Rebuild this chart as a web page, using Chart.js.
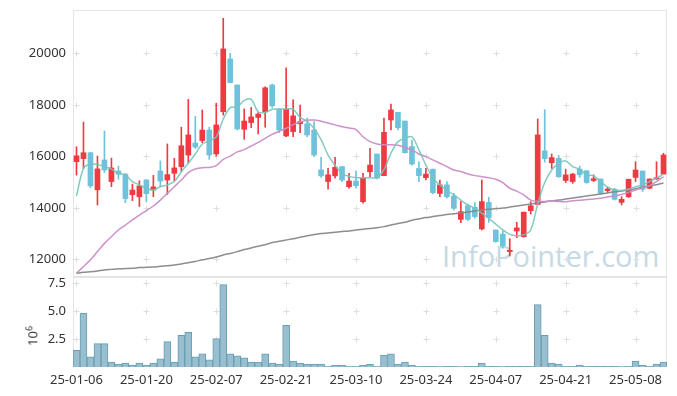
<!DOCTYPE html>
<html>
<head>
<meta charset="utf-8">
<script src="https://cdn.jsdelivr.net/npm/chart.js@4.4.1/dist/chart.umd.min.js"></script>
<style>
  html, body { margin: 0; padding: 0; background: #fff; }
  #wrap { position: relative; width: 677px; height: 396px; overflow: hidden; }
  canvas { position: absolute; left: 0; }
  #priceChart { top: 0; }
  #volChart { top: 277px; }
  #mark {
    position: absolute; left: 442px; top: 241px;
    font: 29px/29px "Open Sans", sans-serif; color: #c6d9e4; white-space: nowrap;
  }
  #unit {
    position: absolute; left: 32px; top: 336px;
    transform: translate(-50%, -50%) rotate(-90deg);
    font: 13px "Noto Sans", sans-serif; color: #333; white-space: nowrap;
  }
  #unit sup { font-size: 9px; }
</style>
</head>
<body>
<div id="wrap">
  <div id="mark">InfoPointer.com</div>
  <canvas id="priceChart" width="677" height="278"></canvas>
  <canvas id="volChart" width="677" height="119"></canvas>
  <div id="unit">10<sup>6</sup></div>
</div>
<script>
(() => {
  "use strict";

  const dates = [
    "25-01-06", "25-01-07", "25-01-08", "25-01-09", "25-01-10", "25-01-13", "25-01-14", "25-01-15",
    "25-01-16", "25-01-17", "25-01-20", "25-01-21", "25-01-22", "25-01-23", "25-01-24", "25-01-31",
    "25-02-03", "25-02-04", "25-02-05", "25-02-06", "25-02-07", "25-02-10", "25-02-11", "25-02-12",
    "25-02-13", "25-02-14", "25-02-17", "25-02-18", "25-02-19", "25-02-20", "25-02-21", "25-02-24",
    "25-02-25", "25-02-26", "25-02-27", "25-02-28", "25-03-04", "25-03-05", "25-03-06", "25-03-07",
    "25-03-10", "25-03-11", "25-03-12", "25-03-13", "25-03-14", "25-03-17", "25-03-18", "25-03-19",
    "25-03-20", "25-03-21", "25-03-24", "25-03-25", "25-03-26", "25-03-27", "25-03-28", "25-03-31",
    "25-04-01", "25-04-02", "25-04-03", "25-04-04", "25-04-07", "25-04-08", "25-04-09", "25-04-10",
    "25-04-11", "25-04-14", "25-04-15", "25-04-16", "25-04-17", "25-04-18", "25-04-21", "25-04-22",
    "25-04-23", "25-04-24", "25-04-25", "25-04-28", "25-04-29", "25-04-30", "25-05-02", "25-05-07",
    "25-05-08", "25-05-09", "25-05-12", "25-05-13", "25-05-14"
  ];

  const openVals = [
    15790, 15910, 16140, 14700, 15860, 15020, 15430, 15310, 14510, 14430, 15080, 14690, 15430, 15080, 15340, 15600,
    16050, 16520, 16610, 17020, 16090, 17730, 19780, 18770, 17050, 17310, 17510, 17730, 18770, 17830, 16790, 16960,
    17260, 17260, 17020, 15470, 15020, 15240, 15600, 14820, 15040, 14240, 15400, 16090, 15250, 17410, 17710, 17370,
    16380, 15530, 15170, 15500, 14560, 14890, 14460, 13550, 14080, 14020, 13180, 14210, 13140, 12980, 12300, 13100,
    12880, 13890, 14130, 16210, 15750, 15920, 15060, 15020, 15500, 15440, 15060, 15120, 14670, 14720, 14210, 14430,
    15180, 15430, 14760, 15120, 15310
  ];
  const highVals = [
    16370, 17330, 16160, 16010, 16980, 15930, 15620, 15330, 14920, 15050, 15100, 15260, 15820, 16480, 15920, 17130,
    18210, 17550, 17800, 17130, 18060, 21360, 20000, 18770, 17840, 17900, 17700, 18700, 18800, 17830, 19440, 18190,
    17990, 17480, 17350, 15960, 15530, 15960, 15600, 15340, 15440, 15340, 16310, 16090, 17480, 18030, 17710, 17370,
    16630, 15790, 15530, 15500, 15080, 15020, 14560, 14240, 14150, 14200, 15080, 14410, 13140, 13110, 12800, 13440,
    13840, 14240, 17450, 17810, 16090, 16030, 15500, 15340, 15620, 15440, 15280, 15120, 14800, 14760, 14430, 15110,
    15790, 15430, 15120, 15790, 16120
  ];
  const lowVals = [
    15270, 15530, 14780, 14110, 15370, 14820, 15110, 14200, 14280, 14050, 14230, 14430, 14820, 14520, 15050, 15400,
    15750, 16300, 16530, 15880, 16010, 17600, 18860, 17020, 16660, 17110, 16870, 17130, 17900, 16920, 16760, 16760,
    16920, 16760, 15990, 15180, 14720, 15150, 15020, 14760, 14760, 14180, 15210, 15120, 15250, 17020, 17020, 16120,
    15660, 15020, 15080, 14540, 14430, 14370, 13920, 13420, 13500, 13590, 13140, 13430, 12660, 12430, 12130, 12840,
    12860, 13760, 14130, 15770, 15530, 15180, 14980, 14950, 15180, 14950, 15020, 14540, 14600, 14300, 14110, 14400,
    15020, 14630, 14740, 15100, 15310
  ];
  const closeVals = [
    16020, 16140, 14850, 15510, 15470, 15550, 15300, 14360, 14690, 14850, 14550, 14810, 15040, 15290, 15550, 16410,
    16830, 16360, 17020, 16050, 17220, 20170, 18860, 17060, 17370, 17530, 17640, 18660, 17960, 17020, 17830, 17570,
    17350, 16830, 16050, 15240, 15280, 15570, 15080, 15040, 14860, 15150, 15660, 15150, 16930, 17800, 17110, 16140,
    15700, 15250, 15310, 14590, 14890, 14430, 13980, 13850, 13550, 13660, 14240, 13620, 12690, 12520, 12350, 13220,
    13830, 14080, 16830, 15910, 15950, 15210, 15280, 15310, 15280, 14980, 15130, 14560, 14730, 14330, 14330, 15110,
    15470, 14720, 15120, 15170, 16050
  ];

  const ma5 = [
    14460, 15530, 15700, 15680, 15600, 15500, 15340, 15280, 15020, 14890, 14760, 14690, 14820, 14890, 15020, 15400,
    15730, 16090, 16480, 16600, 16750, 17450, 17890, 17920, 18170, 18210, 17730, 17700, 17830, 17840, 17840, 17830,
    17510, 17360, 17080, 16650, 16050, 15650, 15330, 15220, 15170, 15170, 15170, 15180, 15480, 16120, 16570, 16700,
    16760, 16250, 15660, 15150, 14890, 14690, 14500, 14300, 14110, 13980, 13790, 13590, 13370, 13140, 12970, 12920,
    12950, 13140, 14150, 14980, 15470, 15730, 15820, 15600, 15500, 15280, 15240, 15020, 14800, 14690, 14670, 14720,
    14820, 14890, 15020, 15150, 15310
  ];
  const ma20 = [
    11460, 11720, 11980, 12300, 12620, 12880, 13140, 13330, 13530, 13720, 13890, 14070, 14300, 14560, 14820, 15080,
    15370, 15510, 15560, 15570, 15640, 15880, 16010, 16170, 16260, 16400, 16540, 16700, 16850, 16970, 17090, 17230,
    17330, 17400, 17410, 17360, 17290, 17220, 17150, 17100, 17040, 16760, 16570, 16480, 16450, 16450, 16430, 16340,
    16250, 16090, 15990, 15860, 15730, 15600, 15470, 15410, 15310, 15250, 15210, 15170, 15110, 14980, 14760, 14650,
    14500, 14300, 14250, 14250, 14270, 14250, 14240, 14270, 14290, 14320, 14340, 14370, 14420, 14460, 14520, 14600,
    14690, 14780, 14860, 15020, 15210
  ];
  const ma60 = [
    11460, 11500, 11520, 11550, 11590, 11610, 11630, 11640, 11650, 11680, 11690, 11700, 11730, 11750, 11780, 11820,
    11870, 11920, 11980, 12030, 12090, 12170, 12230, 12300, 12380, 12440, 12510, 12570, 12650, 12700, 12750, 12800,
    12860, 12920, 12960, 13000, 13020, 13050, 13080, 13100, 13140, 13170, 13200, 13230, 13270, 13330, 13390, 13440,
    13520, 13570, 13620, 13660, 13700, 13740, 13770, 13800, 13840, 13880, 13920, 13940, 13970, 13990, 14030, 14070,
    14110, 14150, 14190, 14230, 14270, 14300, 14340, 14380, 14420, 14460, 14500, 14540, 14580, 14620, 14650, 14690,
    14740, 14800, 14850, 14900, 14960
  ];

  // volume, in units of 10^6
  const volumes = [
    1.48, 4.82, 0.91, 2.09, 2.09, 0.45, 0.27, 0.36, 0.18, 0.36, 0.18, 0.36, 0.72, 2.27, 0.45, 2.82,
    3.09, 0.91, 1.18, 0.63, 2.54, 7.36, 1.18, 1.00, 0.82, 0.45, 0.45, 1.18, 0.36, 0.27, 3.72, 0.54,
    0.36, 0.27, 0.27, 0.27, 0.09, 0.15, 0.15, 0.06, 0.06, 0.15, 0.24, 0.06, 1.06, 1.18, 0.27, 0.45,
    0.18, 0.06, 0.05, 0.05, 0.04, 0.05, 0.05, 0.04, 0.05, 0.05, 0.36, 0.05, 0.05, 0.04, 0.05, 0.05,
    0.05, 0.06, 5.57, 2.82, 0.36, 0.27, 0.06, 0.06, 0.18, 0.06, 0.05, 0.05, 0.05, 0.05, 0.03, 0.06,
    0.54, 0.18, 0.06, 0.27, 0.45
  ];

  const priceTicks = [12000, 14000, 16000, 18000, 20000];
  const volTicks = [2.5, 5.0, 7.5];
  const LABEL_EVERY = 10;

  const FONT = "'Noto Sans', sans-serif";
  const UP = "#ef3a42";
  const DOWN = "#6ec2db";
  const AXIS_W = 73;

  const candleColours = closeVals.map((c, i) => (c >= openVals[i] ? UP : DOWN));
  const wicks = lowVals.map((l, i) => [l, highVals[i]]);
  const bodies = openVals.map((o, i) => [o, closeVals[i]]);
  const labelIdx = dates.map((_, i) => i).filter((i) => i % LABEL_EVERY === 0);

  // fixed axis width, and no extra label padding eating into the plot
  function fitY(s) {
    s.width = AXIS_W;
    s.paddingTop = 0;
    s.paddingBottom = 0;
  }

  // light frame round the plot area plus small "+" marks where ticks cross
  const frameGrid = {
    id: "frameGrid",
    beforeDatasetsDraw(chart) {
      const { ctx, chartArea: a, scales } = chart;
      ctx.save();
      ctx.strokeStyle = "#e4e4e4";
      ctx.lineWidth = 1;
      ctx.strokeRect(a.left + 0.5, a.top + 0.5, a.width - 1, a.height - 1);
      ctx.strokeStyle = "#dedede";
      const ys = scales.y.ticks.map((t) => Math.round(scales.y.getPixelForValue(t.value)) + 0.5);
      labelIdx.forEach((i) => {
        const x = Math.round(scales.x.getPixelForValue(i)) + 0.5;
        ys.forEach((y) => {
          ctx.beginPath();
          ctx.moveTo(x - 3, y);
          ctx.lineTo(x + 3, y);
          ctx.moveTo(x, y - 3);
          ctx.lineTo(x, y + 3);
          ctx.stroke();
        });
      });
      ctx.restore();
    }
  };

  const maLine = (label, data, colour) => ({
    type: "line",
    label,
    data,
    borderColor: colour,
    borderWidth: 1.5,
    pointRadius: 0,
    tension: 0.3,
    order: 0
  });

  new Chart(document.getElementById("priceChart"), {
    type: "bar",
    data: {
      labels: dates,
      datasets: [
        maLine("MA5", ma5, "rgba(120, 196, 186, 0.9)"),
        maLine("MA20", ma20, "rgba(201, 140, 198, 0.95)"),
        maLine("MA60", ma60, "rgba(135, 135, 135, 0.95)"),
        {
          label: "wick",
          data: wicks,
          backgroundColor: candleColours,
          barThickness: 1,
          grouped: false,
          order: 2
        },
        {
          label: "body",
          data: bodies,
          backgroundColor: candleColours,
          barThickness: 5,
          minBarLength: 1,
          grouped: false,
          order: 1
        }
      ]
    },
    options: {
      responsive: false,
      animation: false,
      layout: { padding: { top: 10, right: 10, bottom: 1, left: 0 } },
      scales: {
        x: { display: false, offset: true },
        y: {
          min: 11314,
          max: 21681,
          afterFit: fitY,
          afterBuildTicks(s) { s.ticks = priceTicks.map((v) => ({ value: v })); },
          ticks: {
            color: "#333",
            padding: 7,
            font: { family: FONT, size: 13 },
            callback: (v) => String(v)
          },
          grid: { display: false, drawTicks: false },
          border: { display: false }
        }
      },
      plugins: { legend: { display: false }, tooltip: { enabled: false } }
    },
    plugins: [frameGrid]
  });

  new Chart(document.getElementById("volChart"), {
    type: "bar",
    data: {
      labels: dates,
      datasets: [
        {
          label: "Volume",
          data: volumes,
          backgroundColor: "#97bfcf",
          borderColor: "#6b9db3",
          borderWidth: 1,
          barPercentage: 1,
          categoryPercentage: 1
        }
      ]
    },
    options: {
      responsive: false,
      animation: false,
      layout: { padding: { top: 0, right: 10, bottom: 0, left: 0 } },
      scales: {
        x: {
          offset: true,
          afterFit(s) {
            s.height = 29;
            s.paddingLeft = 0;
            s.paddingRight = 0;
          },
          ticks: {
            autoSkip: false,
            maxRotation: 0,
            color: "#333",
            padding: 5,
            font: { family: FONT, size: 13 },
            callback(value, index) {
              return index % LABEL_EVERY === 0 ? this.getLabelForValue(value) : null;
            }
          },
          grid: { display: false, drawTicks: false },
          border: { display: false }
        },
        y: {
          min: 0,
          max: 8.04,
          afterFit: fitY,
          afterBuildTicks(s) { s.ticks = volTicks.map((v) => ({ value: v })); },
          ticks: {
            color: "#333",
            padding: 7,
            font: { family: FONT, size: 13 },
            callback: (v) => Number(v).toFixed(1)
          },
          grid: { display: false, drawTicks: false },
          border: { display: false }
        }
      },
      plugins: { legend: { display: false }, tooltip: { enabled: false } }
    },
    plugins: [frameGrid]
  });
})();
</script>
</body>
</html>
